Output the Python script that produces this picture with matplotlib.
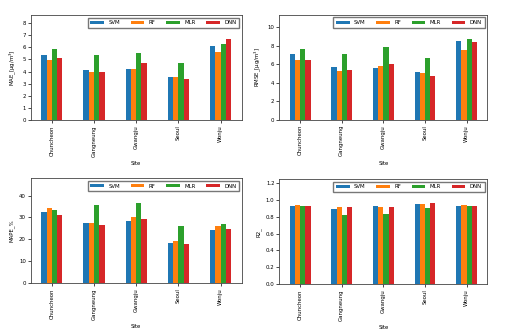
import numpy as np
import matplotlib
matplotlib.use("Agg")
import matplotlib.pyplot as plt

sites = ["Chuncheon", "Gangneung", "Gwangju", "Seoul", "Wonju"]
models = ["SVM", "RF", "MLR", "DNN"]
colors = ["#1f77b4", "#ff7f0e", "#2ca02c", "#d62728"]

mae = {
    "SVM": [5.40, 4.15, 4.20, 3.60, 6.10],
    "RF":  [4.95, 3.95, 4.25, 3.60, 5.60],
    "MLR": [5.85, 5.35, 5.50, 4.75, 6.30],
    "DNN": [5.10, 4.00, 4.70, 3.40, 6.65],
}
rmse = {
    "SVM": [7.10, 5.65, 5.55, 5.14, 8.49],
    "RF":  [6.47, 5.28, 5.83, 5.00, 7.55],
    "MLR": [7.63, 7.12, 7.84, 6.65, 8.70],
    "DNN": [6.47, 5.40, 6.05, 4.68, 8.42],
}
mape = {
    "SVM": [32.3, 27.6, 28.6, 18.3, 24.5],
    "RF":  [34.1, 27.4, 30.3, 19.1, 26.2],
    "MLR": [33.3, 35.6, 36.8, 25.9, 26.8],
    "DNN": [31.0, 26.4, 29.2, 17.7, 24.7],
}
r2 = {
    "SVM": [0.920, 0.895, 0.920, 0.945, 0.920],
    "RF":  [0.940, 0.915, 0.910, 0.945, 0.940],
    "MLR": [0.920, 0.820, 0.830, 0.905, 0.920],
    "DNN": [0.930, 0.910, 0.910, 0.957, 0.920],
}

panels = [
    (mae, "MAE_[\u03bcg/m$^3$]", [0, 1, 2, 3, 4, 5, 6, 7, 8], "{:.0f}"),
    (rmse, "RMSE_[\u03bcg/m$^3$]", [0, 2, 4, 6, 8, 10], "{:.0f}"),
    (mape, "MAPE_%", [0, 10, 20, 30, 40], "{:.0f}"),
    (r2, "R2_", [0.0, 0.2, 0.4, 0.6, 0.8, 1.0, 1.2], "{:.1f}"),
]

boxes = [
    (30.7, 15.0, 241.7, 120.5),
    (279.3, 14.7, 487.3, 120.0),
    (30.7, 178.3, 241.7, 283.3),
    (279.3, 179.0, 487.3, 284.3),
]

W, H = 505, 334
fig = plt.figure(figsize=(W / 100, H / 100), dpi=100)

fs = 3.9
x = np.arange(len(sites))
bw = 0.5 / len(models)

for (data, ylabel, yticks, fmt), (l, t, r, b) in zip(panels, boxes):
    ax = fig.add_axes([l / W, 1 - b / H, (r - l) / W, (b - t) / H])
    vmax = 0
    for i, (m, c) in enumerate(zip(models, colors)):
        vals = data[m]
        vmax = max(vmax, max(vals))
        ax.bar(x - 0.25 + bw * (i + 0.5), vals, bw, color=c, label=m)
    ax.set_xlim(-0.5, len(sites) - 0.5)
    ax.set_ylim(0, vmax * 1.3)
    ax.set_yticks(yticks)
    ax.set_yticklabels([fmt.format(v) for v in yticks], fontsize=fs)
    ax.set_xticks(x)
    ax.set_xticklabels(sites, rotation=90, fontsize=fs)
    ax.set_xlabel("Site", fontsize=fs, labelpad=3)
    ax.set_ylabel(ylabel, fontsize=fs, labelpad=3)
    ax.tick_params(length=2, width=0.5, pad=1.5)
    for s in ax.spines.values():
        s.set_linewidth(0.6)
        s.set_edgecolor("#444444")
    ax.legend(ncol=4, loc="upper right", fontsize=fs, frameon=True,
              handlelength=2.5, handleheight=0.5, columnspacing=2.0,
              borderpad=0.5, borderaxespad=0.5, fancybox=False,
              edgecolor="#555555")

fig.savefig("out.png", dpi=100)
